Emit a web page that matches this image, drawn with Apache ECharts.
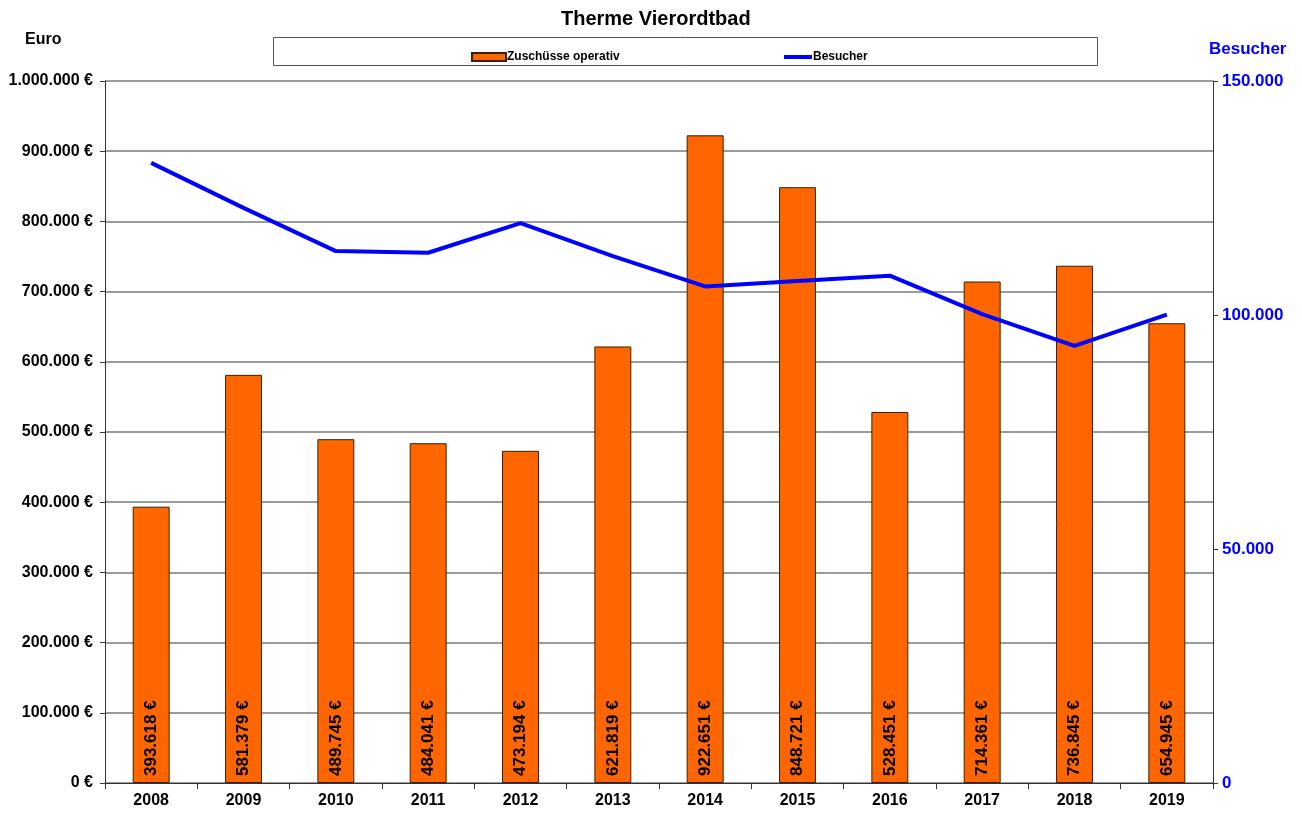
<!DOCTYPE html>
<html>
<head>
<meta charset="utf-8">
<title>Therme Vierordtbad</title>
<script src="https://cdn.jsdelivr.net/npm/echarts@6/dist/echarts.min.js"></script>
<style>
  html, body { margin: 0; padding: 0; background: #fff; }
  #main { width: 1302px; height: 814px; }
</style>
</head>
<body>
<div id="main"></div>
<script>
// Daten
const jahre = ['2008', '2009', '2010', '2011', '2012', '2013', '2014', '2015', '2016', '2017', '2018', '2019'];
const zuschuesse = [393618, 581379, 489745, 484041, 473194, 621819, 922651, 848721, 528451, 714361, 736845, 654945];
const besucher = [132500, 122900, 113650, 113300, 119650, 112600, 106100, 107250, 108400, 100200, 93400, 100100];

// deutsche Tausenderpunkte
function punkte(v) {
  return String(Math.round(v)).replace(/\B(?=(\d{3})+(?!\d))/g, '.');
}

const FONT = 'Liberation Sans';

const chart = echarts.init(document.getElementById('main'));
chart.setOption({
  animation: false,
  backgroundColor: '#fff',
  textStyle: { fontFamily: FONT },
  title: {
    text: 'Therme Vierordtbad',
    left: 561,
    top: 9,
    padding: 0,
    textStyle: { fontSize: 20, fontWeight: 'bold', color: '#000', fontFamily: FONT }
  },
  graphic: [
    {
      // Rahmen um die Legende
      type: 'rect',
      shape: { x: 273.5, y: 37.5, width: 824, height: 28 },
      style: { fill: '#fff', stroke: '#555', lineWidth: 1 },
      z: 0
    }
  ],
  legend: [
    {
      data: [{ name: 'Zuschüsse operativ', icon: 'rect' }],
      left: 466,
      top: 46,
      itemWidth: 34,
      itemHeight: 8,
      textStyle: { fontSize: 12, fontWeight: 'bold', color: '#000', padding: [0, 0, 0, -4] }
    },
    {
      data: [{ name: 'Besucher', icon: 'rect' }],
      left: 779,
      top: 46,
      itemWidth: 28,
      itemHeight: 4,
      textStyle: { fontSize: 12, fontWeight: 'bold', color: '#000', padding: [0, 0, 0, -4] }
    }
  ],
  grid: { left: 105, right: 89, top: 81, bottom: 31 },
  xAxis: {
    type: 'category',
    data: jahre,
    axisLine: { lineStyle: { color: '#333', width: 1 } },
    axisTick: { show: true, length: 6, lineStyle: { color: '#333' } },
    axisLabel: { fontSize: 16, fontWeight: 'bold', color: '#000', margin: 10 }
  },
  yAxis: [
    {
      type: 'value',
      min: 0,
      max: 1000000,
      interval: 100000,
      name: 'Euro',
      nameLocation: 'end',
      nameGap: 33,
      nameTextStyle: { fontSize: 16, fontWeight: 'bold', color: '#000', align: 'left', padding: [0, 0, 0, -80] },
      axisLine: { show: true, lineStyle: { color: '#333' } },
      axisTick: { show: true, length: 5, lineStyle: { color: '#333' } },
      axisLabel: {
        fontSize: 16, fontWeight: 'bold', color: '#000', margin: 12,
        formatter: v => punkte(v) + ' €'
      },
      splitLine: { lineStyle: { color: '#7a7a7a', width: 1.5 } }
    },
    {
      type: 'value',
      min: 0,
      max: 150000,
      interval: 50000,
      name: 'Besucher',
      nameLocation: 'end',
      nameGap: 23,
      nameTextStyle: { fontSize: 17, fontWeight: 'bold', color: '#0000ff', align: 'left', padding: [0, 0, 0, -4] },
      axisLine: { show: true, lineStyle: { color: '#333' } },
      axisTick: { show: true, length: 5, lineStyle: { color: '#333' } },
      axisLabel: {
        fontSize: 17, fontWeight: 'bold', color: '#0000ff', margin: 9,
        formatter: v => punkte(v)
      },
      splitLine: { show: false }
    }
  ],
  series: [
    {
      name: 'Zuschüsse operativ',
      type: 'bar',
      data: zuschuesse,
      barWidth: '40%',
      itemStyle: { color: '#ff6600', borderColor: '#3a2000', borderWidth: 1 },
      label: {
        show: true,
        position: 'insideBottom',
        rotate: 90,
        align: 'left',
        verticalAlign: 'middle',
        distance: 7,
        fontSize: 17,
        fontWeight: 'bold',
        color: '#000',
        formatter: p => punkte(p.value) + ' €'
      },
      z: 2
    },
    {
      name: 'Besucher',
      type: 'line',
      yAxisIndex: 1,
      data: besucher,
      symbol: 'none',
      lineStyle: { color: '#0000ff', width: 4 },
      itemStyle: { color: '#0000ff' },
      z: 3
    }
  ]
});
</script>
</body>
</html>
